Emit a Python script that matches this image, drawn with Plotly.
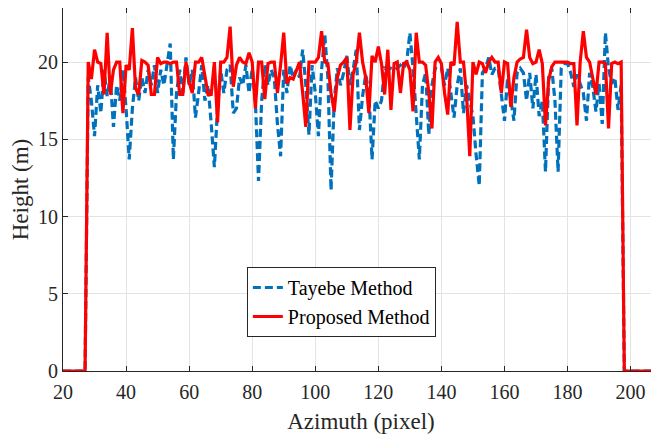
import plotly.graph_objects as go

# Azimuth positions (pixel), one sample per pixel from 20 to 210
azimuth = list(range(20, 211))

lead_zeros = [0, 0, 0, 0, 0, 0, 0, 0]          # azimuth 20..27
trail_zeros = [0, 0, 0, 0, 0, 0, 0, 0, 0, 0, 0, 0, 0]  # azimuth 198..210

tayebe_mid = [
    19.0, 17.5, 15.2, 18.5, 16.7, 19.5, 17.8, 19.0, 15.8, 18.5,
    17.5, 19.5, 17.0, 13.7, 17.0, 19.0, 17.5, 19.0, 18.0, 19.5,
    18.5, 19.8, 18.0, 19.5, 18.5, 19.8, 21.2, 13.7, 18.0, 19.5,
    18.0, 20.3, 18.5, 19.5, 16.4, 18.0, 19.8, 17.5, 18.5, 16.0,
    13.2, 17.0, 19.5, 18.0, 19.5, 19.8, 16.7, 17.0, 19.0, 18.5,
    19.8, 18.0, 19.6, 17.5, 12.3, 17.5, 19.8, 18.5, 19.5, 19.0,
    16.0, 13.9, 19.5, 18.0, 19.8, 19.0, 19.5, 19.0, 20.8, 18.5,
    15.3, 19.8, 18.0, 15.2, 19.5, 21.8, 19.0, 11.7, 17.5, 19.6,
    18.5, 19.3, 20.4, 18.5, 19.5, 20.8, 15.6, 17.8, 19.2, 18.0,
    13.7, 17.5, 17.0, 17.5, 19.6, 19.5, 19.6, 19.5, 19.6, 19.8,
    19.6, 20.0, 21.9, 19.6, 16.5, 13.7, 18.5, 19.3, 15.3, 18.5,
    19.6, 19.5, 19.6, 18.5, 19.6, 18.0, 16.4, 18.5, 19.6, 16.7,
    18.5, 17.5, 16.5, 14.0, 12.0, 19.3, 19.6, 20.3, 19.2, 19.6,
    19.6, 17.9, 16.2, 19.0, 17.5, 16.2, 19.3, 19.6, 19.3, 17.5,
    19.3, 17.0, 19.2, 16.5, 17.5, 12.9, 19.0, 19.6, 17.5, 12.9,
    19.6, 19.9, 19.9, 19.3, 18.4, 19.2, 18.6, 18.0, 16.2, 19.3,
    18.4, 16.8, 18.6, 16.0, 21.9, 19.6, 18.6, 19.0, 16.9, 18.5,
]

proposed_mid = [
    20.0, 18.9, 20.8, 20.0, 19.9, 17.9, 21.9, 17.9, 19.5, 20.0,
    20.0, 16.7, 19.8, 19.5, 22.2, 18.3, 17.9, 20.1, 20.0, 19.8,
    17.9, 17.9, 20.3, 19.9, 20.0, 20.0, 19.9, 20.0, 20.0, 17.9,
    17.9, 20.0, 18.7, 18.0, 20.0, 20.0, 20.3, 19.0, 17.9, 17.9,
    20.0, 16.1, 20.0, 20.0, 20.3, 22.3, 18.4, 19.8, 20.3, 20.0,
    19.9, 20.6, 20.0, 17.0, 20.0, 20.0, 17.6, 19.9, 20.0, 20.0,
    18.0, 19.8, 21.9, 18.6, 19.0, 18.9, 19.5, 20.0, 18.0, 15.8,
    20.0, 20.0, 20.0, 20.3, 22.0, 20.0, 19.9, 18.0, 16.8, 19.0,
    19.8, 20.0, 20.3, 15.6, 19.2, 20.0, 21.9, 20.0, 19.0, 16.7,
    20.4, 20.0, 21.0, 19.9, 17.9, 20.8, 16.9, 19.9, 20.0, 18.0,
    19.9, 20.0, 19.5, 16.8, 21.9, 20.0, 20.0, 19.8, 18.0, 15.7,
    20.0, 20.3, 19.9, 18.0, 16.6, 20.0, 19.8, 22.6, 20.0, 20.0,
    17.8, 13.9, 20.0, 19.2, 20.0, 19.9, 19.3, 20.0, 20.3, 20.0,
    20.0, 18.0, 20.0, 19.9, 17.1, 19.0, 20.0, 20.2, 20.3, 22.1,
    20.3, 19.9, 20.0, 20.8, 19.9, 15.9, 18.8, 19.7, 20.0, 20.0,
    20.0, 20.0, 20.0, 19.9, 19.9, 15.9, 20.0, 22.0, 20.3, 20.0,
    19.0, 17.9, 20.0, 20.0, 19.9, 15.7, 19.9, 20.0, 19.9, 20.0,
]

tayebe = lead_zeros + tayebe_mid + trail_zeros
proposed = lead_zeros + proposed_mid + trail_zeros

x_ticks = [20, 40, 60, 80, 100, 120, 140, 160, 180, 200]
y_ticks = [0, 5, 10, 15, 20]

FONT = "Liberation Serif, Times New Roman, serif"
AX = "#262626"

fig = go.Figure()
fig.add_trace(go.Scatter(
    x=azimuth, y=tayebe, mode="lines", name="Tayebe Method",
    line=dict(color="#0072BD", width=3.2, dash="8px,4px"),
))
fig.add_trace(go.Scatter(
    x=azimuth, y=proposed, mode="lines", name="Proposed Method",
    line=dict(color="#FF0000", width=3.2),
))

axis_common = dict(
    showline=True, linecolor=AX, linewidth=1, mirror="ticks",
    ticks="inside", ticklen=5, tickcolor=AX,
    showgrid=True, gridcolor="#e3e3e3", gridwidth=1,
    zeroline=False, automargin=False,
    tickfont=dict(family=FONT, size=20, color=AX),
)

# The page body adds an 8px offset, so the figure is sized to fit the
# remaining window area.
fig.update_layout(
    width=651, height=426,
    margin=dict(l=55, r=0, t=0, b=63, autoexpand=False),
    paper_bgcolor="white", plot_bgcolor="white",
    font=dict(family=FONT, color=AX),
    showlegend=True,
    legend=dict(
        x=0.3085, y=0.2865, xanchor="left", yanchor="top",
        bgcolor="white", bordercolor=AX, borderwidth=1,
        font=dict(family=FONT, size=20, color="#000000"),
        itemwidth=30, tracegroupgap=0,
    ),
    xaxis=dict(
        range=[20, 209], tickvals=x_ticks, ticklabelstandoff=3,
        title=dict(text="Azimuth (pixel)", font=dict(family=FONT, size=23, color=AX), standoff=10),
        **axis_common,
    ),
    yaxis=dict(
        range=[0, 23.5], tickvals=y_ticks,
        title=dict(text="Height (m)", font=dict(family=FONT, size=23, color=AX), standoff=11),
        **axis_common,
    ),
)

fig.write_html("out.html")
